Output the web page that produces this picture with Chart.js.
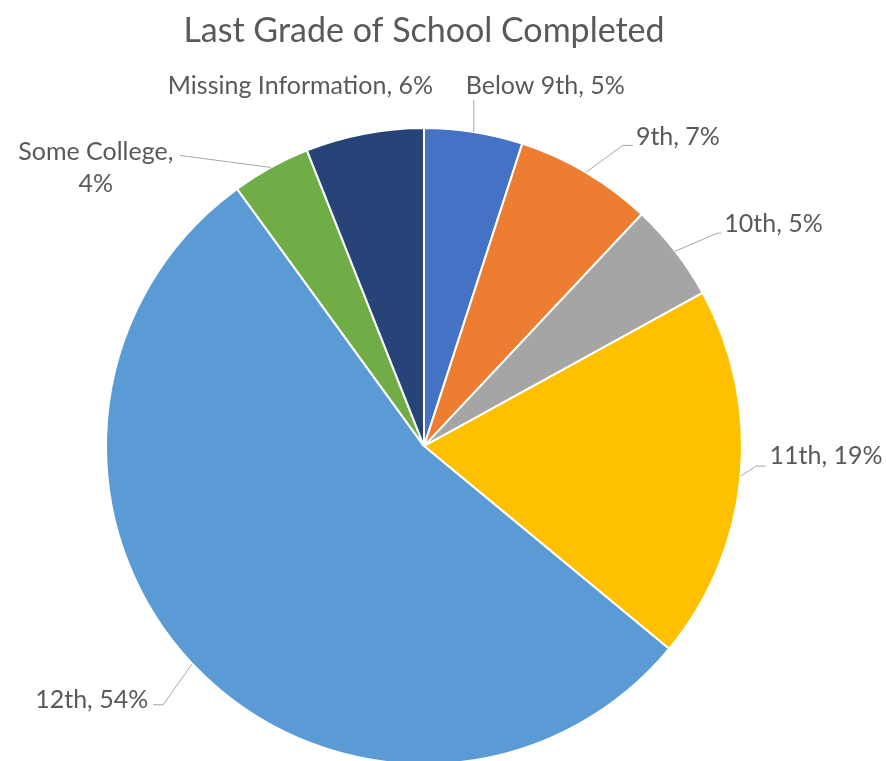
<!DOCTYPE html>
<html>
<head>
<meta charset="utf-8">
<script src="https://cdn.jsdelivr.net/npm/chart.js@4"></script>
<style>
  html, body { margin: 0; padding: 0; background: #fff; }
  #wrap { width: 886px; height: 761px; position: relative; }
</style>
</head>
<body>
<div id="wrap"><canvas id="gradeChart"></canvas></div>
<script>
// slice data
const grades = ['Below 9th', '9th', '10th', '11th', '12th', 'Some College', 'Missing Information'];
const shares = [5, 7, 5, 19, 54, 4, 6];
const sliceColors = ['#4472C4', '#ED7D31', '#A5A5A5', '#FFC000', '#5B9BD5', '#70AD47', '#264478'];

// label placement relative to the slice's outer edge point (text anchor, leader points)
const labelLayout = [
  { text: [-8, -46], align: 'left', lead: [[0, -32]] },
  { text: [50, -35], align: 'left', lead: [[37, -27], [47, -27]] },
  { text: [49, -27], align: 'left', lead: [[42, -18], [46, -18]] },
  { text: [29, -20], align: 'left', lead: [[16, -10], [25, -10]] },
  { text: [-44, 36], align: 'right', lead: [[-29, 41], [-39, 41]] },
  { text: [-175, -15], align: 'center', lead: [[-91, -12]], split: true },
  { text: [-64, -48], align: 'center', lead: [] }
];

const FONT = 'Lato, "Open Sans", sans-serif';

const pieLabels = {
  id: 'pieLabels',
  afterDatasetsDraw(chart) {
    const ctx = chart.ctx;
    const arcs = chart.getDatasetMeta(0).data;
    ctx.save();
    arcs.forEach((arc, i) => {
      const p = arc.getProps(['x', 'y', 'startAngle', 'endAngle', 'outerRadius'], true);
      const mid = (p.startAngle + p.endAngle) / 2;
      const ex = p.x + Math.cos(mid) * p.outerRadius;
      const ey = p.y + Math.sin(mid) * p.outerRadius;
      const lay = labelLayout[i];

      if (lay.lead.length) {
        ctx.beginPath();
        ctx.strokeStyle = '#A6A6A6';
        ctx.lineWidth = 1;
        ctx.moveTo(ex, ey);
        lay.lead.forEach(pt => ctx.lineTo(ex + pt[0], ey + pt[1]));
        ctx.stroke();
      }

      ctx.fillStyle = '#595959';
      ctx.font = '25px ' + FONT;
      ctx.textBaseline = 'middle';
      ctx.textAlign = lay.align;
      const tx = ex + lay.text[0];
      const ty = ey + lay.text[1];
      if (lay.split) {
        ctx.fillText(grades[i] + ',', tx, ty);
        ctx.fillText(shares[i] + '%', tx, ty + 32);
      } else {
        ctx.fillText(grades[i] + ', ' + shares[i] + '%', tx, ty);
      }
    });
    ctx.restore();
  }
};

new Chart(document.getElementById('gradeChart'), {
  type: 'pie',
  data: {
    labels: grades,
    datasets: [{
      data: shares,
      backgroundColor: sliceColors,
      borderColor: '#ffffff',
      borderWidth: 2,
      radius: 318
    }]
  },
  options: {
    responsive: true,
    maintainAspectRatio: false,
    animation: false,
    layout: { padding: { left: 0, right: 38, top: 0, bottom: 0 } },
    plugins: {
      legend: { display: false },
      tooltip: { enabled: false },
      title: {
        display: true,
        text: 'Last Grade of School Completed',
        color: '#595959',
        font: { family: FONT, size: 34, weight: 'normal' },
        padding: { top: 11, bottom: 79.4 }
      }
    }
  },
  plugins: [pieLabels]
});
</script>
</body>
</html>
